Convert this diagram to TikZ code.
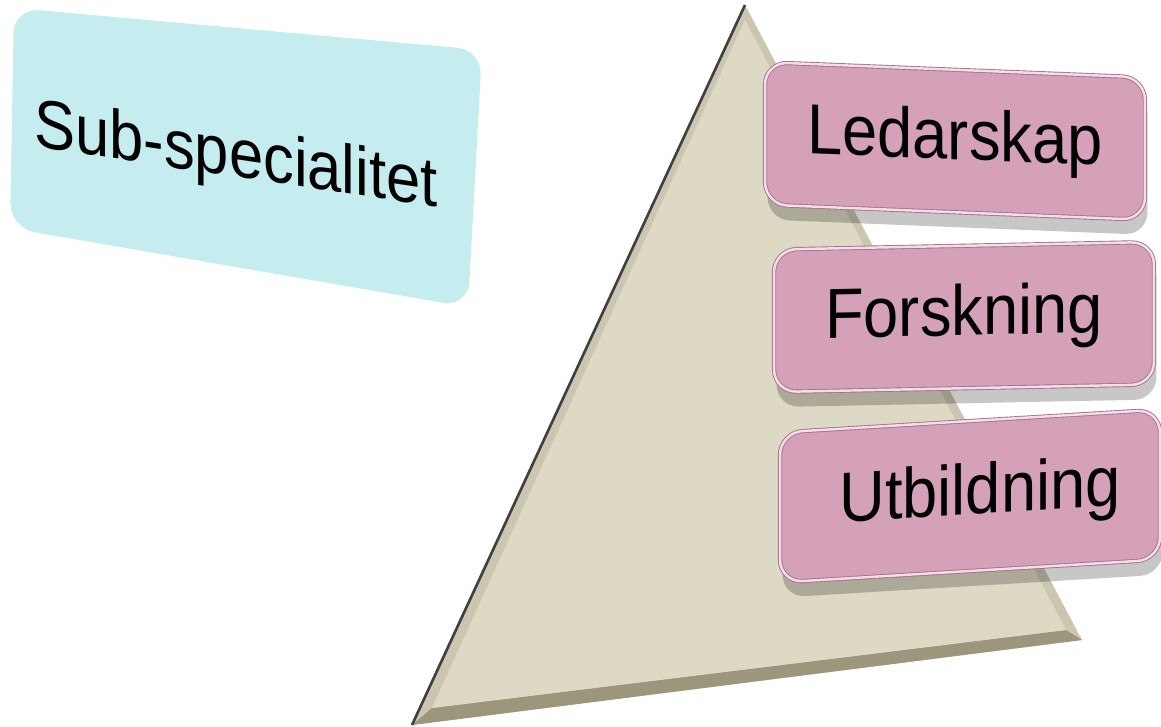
\documentclass[tikz,border=0pt]{standalone}
\usepackage{fontspec}
\setmainfont{Liberation Sans}
\usetikzlibrary{shadows}
\definecolor{subcyan}{HTML}{C5ECEF}
\definecolor{boxpink}{HTML}{D5A1B8}
\definecolor{boxedge}{HTML}{A07488}
\definecolor{boxrim}{HTML}{F6DCEA}
\definecolor{trisand}{HTML}{DED9C4}
\definecolor{tribevel}{HTML}{CBC6B0}
\definecolor{trishade}{HTML}{9C967D}
\newcommand{\tall}[1]{\scalebox{1}[1.12]{#1}}
\tikzset{
  bigtext/.style  = {font=\fontsize{36}{40}\selectfont, text=black},
  level/.style    = {shape=rectangle, rounded corners=0.45cm, bigtext,
                     fill=boxpink, draw=boxedge, line width=0.5pt,
                     double=boxrim, double distance=1.4pt,
                     minimum width=7.6cm, minimum height=2.85cm,
                     transform shape,
                     drop shadow={shadow xshift=0.05cm, shadow yshift=-0.3cm,
                                  opacity=0.22, fill=black}},
  subbox/.style   = {fill=subcyan, rounded corners=0.5cm}
}

\begin{document}
\begin{tikzpicture}
  [
    x = 0.02cm,
    y = -0.02cm
  ]
  \useasboundingbox (0,0) rectangle (1161,727);
  \fill [subbox] (14,8) -- (482,50) -- (468,307) -- (10,228) -- cycle;
  \node [bigtext, font=\fontsize{35}{40}\selectfont, transform shape,
         yslant=-0.15] (sub) at (236,159) {\tall{Sub-specialitet}};

  \coordinate (apex) at (745,5);
  \coordinate (left) at (412,725);
  \coordinate (right) at (1082,640);
  \coordinate (inapex) at (745,20);
  \coordinate (inleft) at (432,708);
  \coordinate (inright) at (1066,630);
  \fill [tribevel] (apex) -- (right) -- (left) -- cycle;
  \fill [trishade] (left) -- (right) -- (inright) -- (inleft) -- cycle;
  \fill [trisand] (inapex) -- (inright) -- (inleft) -- cycle;
  \draw [black!75, line width=1.5pt] (left) -- (apex);

  \node [level, yslant=-0.04] (lead) at (955,141) {\tall{Ledarskap}};
  \node [level, yslant=0.02] (research) at (964,317) {\tall{Forskning}};
  \node [level, yslant=0.06, minimum height=3cm] (edu) at (970,496) {\hspace{0.4cm}\tall{Utbildning}};
\end{tikzpicture}
\end{document}
